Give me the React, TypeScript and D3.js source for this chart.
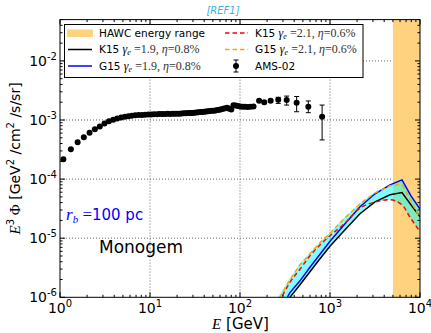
import React from 'react';
import * as d3 from 'd3';

// AMS-02 points (E in GeV, E^3 flux)
const amsE = [1.09, 1.32, 1.57, 1.84, 2.13, 2.44, 2.77, 3.12, 3.5, 3.9, 4.32, 4.77, 5.25, 5.75, 6.27, 6.85, 7.47, 8.13, 8.84, 9.58,
  10.3, 11.1, 12.0, 12.8, 13.7, 14.7, 15.7, 16.7, 17.8, 18.9, 20.0, 21.2, 22.5, 23.8, 25.1, 26.5, 28.0, 29.5, 31.1, 32.8,
  34.5, 36.3, 38.1, 40.1, 42.1, 44.2, 46.4, 48.7, 51.1, 53.6, 56.3, 59.1, 62.1, 65.2, 68.6, 72.2, 76.0, 80.1, 84.6, 89.4,
  94.6, 100.4, 106.8, 113.9, 121.9, 131, 141.4, 163, 186, 219, 266, 330, 426, 574, 817];
const amsFlux = [2.17e-4, 3.2e-4, 4.2e-4, 5.1e-4, 6.1e-4, 7.0e-4, 7.8e-4, 8.7e-4, 9.5e-4, 1.01e-3, 1.06e-3, 1.1e-3, 1.13e-3, 1.16e-3, 1.18e-3, 1.2e-3, 1.21e-3, 1.22e-3, 1.23e-3, 1.24e-3,
  1.24e-3, 1.25e-3, 1.25e-3, 1.26e-3, 1.26e-3, 1.26e-3, 1.27e-3, 1.26e-3, 1.27e-3, 1.28e-3, 1.27e-3, 1.28e-3, 1.29e-3, 1.3e-3, 1.3e-3, 1.31e-3, 1.31e-3, 1.32e-3, 1.33e-3, 1.34e-3,
  1.35e-3, 1.36e-3, 1.37e-3, 1.38e-3, 1.39e-3, 1.41e-3, 1.42e-3, 1.43e-3, 1.44e-3, 1.45e-3, 1.47e-3, 1.49e-3, 1.52e-3, 1.55e-3, 1.58e-3, 1.61e-3, 1.55e-3, 1.5e-3, 1.78e-3, 1.76e-3,
  1.73e-3, 1.7e-3, 1.68e-3, 1.67e-3, 1.66e-3, 1.67e-3, 1.7e-3, 2.12e-3, 1.99e-3, 2.12e-3, 2.2e-3, 2.18e-3, 1.96e-3, 1.68e-3, 1.14e-3];
// error bars of the last points (the others hide under the markers)
const amsErrUp = [0.08e-3, 0.1e-3, 0.12e-3, 0.22e-3, 0.36e-3, 0.54e-3, 0.42e-3, 0.65e-3];
const amsErrDn = [0.08e-3, 0.1e-3, 0.12e-3, 0.29e-3, 0.39e-3, 0.58e-3, 0.35e-3, 0.68e-3];

// model curves
const modelE = [250, 359, 464, 599, 774, 1000, 1468, 2154, 3162, 4642, 6310, 7943, 10000];
const k15g19 = [3.5e-7, 1.0e-6, 1.63e-6, 2.7e-6, 4.48e-6, 7.3e-6, 1.39e-5, 2.59e-5, 4.13e-5, 5.42e-5, 5.93e-5, 3.67e-5, 2.3e-5];
const g15g19 = [4.5e-7, 1.2e-6, 1.9e-6, 3.22e-6, 5.35e-6, 8.87e-6, 1.75e-5, 3.4e-5, 5.64e-5, 8.0e-5, 9.7e-5, 5.2e-5, 3.1e-5];
const k15g21 = [6.3e-7, 1.8e-6, 2.98e-6, 5.03e-6, 7.7e-6, 1.1e-5, 1.8e-5, 3.23e-5, 4.08e-5, 4.47e-5, 3.67e-5, 2.13e-5, 1.3e-5];
const g15g21 = [7.5e-7, 1.98e-6, 3.55e-6, 5.45e-6, 8.36e-6, 1.21e-5, 2.21e-5, 3.82e-5, 5.86e-5, 7.7e-5, 8.17e-5, 4.3e-5, 2.13e-5];
const bandHi = [8.8e-7, 2.1e-6, 3.75e-6, 5.7e-6, 8.7e-6, 1.26e-5, 2.3e-5, 3.95e-5, 6.0e-5, 8.1e-5, 9.8e-5, 5.3e-5, 3.15e-5];
const bandLo = [3.5e-7, 1.0e-6, 1.63e-6, 2.7e-6, 4.48e-6, 7.3e-6, 1.39e-5, 2.59e-5, 4.08e-5, 4.47e-5, 3.67e-5, 2.13e-5, 1.3e-5];

const hawcRange = [5000, 10000];
const xMajor = [1, 10, 100, 1000, 10000];
const yMajor = [1e-6, 1e-5, 1e-4, 1e-3, 1e-2];

const SANS = 'DejaVu Sans';
const SERIF = 'Liberation Serif';

const App = () => {
  const L = 60, R = 420, T = 19.6, B = 297.3;
  const x = d3.scaleLog().domain([1, 1e4]).range([L, R]);
  const y = d3.scaleLog().domain([1e-6, 5e-2]).range([B, T]);

  const line = (vals: number[], curve = d3.curveLinear) =>
    d3.line<number>().x((_, i) => x(modelE[i])).y(d => y(d)).curve(curve)(vals) || '';
  const band = d3.area<number>()
    .x((_, i) => x(modelE[i]))
    .y0((_, i) => y(bandLo[i]))
    .y1((_, i) => y(bandHi[i]))(modelE) || '';

  const exp = (v: number) => Math.round(Math.log10(v));
  const isMajor = (v: number) => Math.abs(Math.log10(v) - exp(v)) < 1e-6;
  const xt = x.ticks();
  const yt = y.ticks();
  const off = amsE.length - amsErrUp.length;

  const mathLabel = (g: string, eta: string) => (
    <>
      <tspan fontFamily={SERIF} fontStyle="italic" fontSize={12}>γ</tspan>
      <tspan fontFamily={SERIF} fontStyle="italic" fontSize={8} dy={2}>e</tspan>
      <tspan fontFamily={SERIF} fontSize={12} dy={-2} fill="#333"> ={g}, </tspan>
      <tspan fontFamily={SERIF} fontStyle="italic" fontSize={12} fill="#333">η</tspan>
      <tspan fontFamily={SERIF} fontSize={12} fill="#333">={eta}%</tspan>
    </>
  );

  return (
    <svg width={431} height={333} style={{ position: 'absolute', left: 0, top: 0 }} fontFamily={SANS}>
      <defs>
        <clipPath id="plot"><rect x={L} y={T} width={R - L} height={B - T} /></clipPath>
      </defs>
      <rect x={0} y={0} width={431} height={333} fill="#fff" />
      <text x={223} y={14} fontSize={10} fontStyle="italic" fill="#3fb0e0" textAnchor="middle">[REF1]</text>

      {/* grid */}
      <g stroke="#666" strokeWidth={1} strokeDasharray="1,2">
        {xMajor.slice(1, -1).map(v => <line key={'gx' + v} x1={x(v)} x2={x(v)} y1={T} y2={B} />)}
        {yMajor.slice(1).map(v => <line key={'gy' + v} x1={L} x2={R} y1={y(v)} y2={y(v)} />)}
      </g>

      <g clipPath="url(#plot)">
        <rect x={x(hawcRange[0])} y={T} width={x(hawcRange[1]) - x(hawcRange[0])} height={B - T} fill="#ffd280" />
        <path d={band} fill="#00ffff" fillOpacity={0.5} />
        <path d={line(k15g19)} fill="none" stroke="#000" strokeWidth={1.5} />
        <path d={line(g15g19)} fill="none" stroke="#0000ff" strokeWidth={1.5} />
        <path d={line(k15g21, d3.curveMonotoneX)} fill="none" stroke="#ff0000" strokeWidth={1.5} strokeDasharray="4.5,3" />
        <path d={line(g15g21)} fill="none" stroke="#ffa500" strokeWidth={1.5} strokeDasharray="4.5,3" />
        {amsErrUp.map((u, j) => {
          const i = off + j;
          const cx = x(amsE[i]);
          const y1 = y(amsFlux[i] + u), y2 = y(amsFlux[i] - amsErrDn[j]);
          return (
            <g key={'e' + i} stroke="#000" strokeWidth={1}>
              <line x1={cx} x2={cx} y1={y1} y2={y2} />
              <line x1={cx - 2.5} x2={cx + 2.5} y1={y1} y2={y1} />
              <line x1={cx - 2.5} x2={cx + 2.5} y1={y2} y2={y2} />
            </g>
          );
        })}
        {amsE.map((e, i) => <circle key={'p' + i} cx={x(e)} cy={y(amsFlux[i])} r={3} fill="#000" />)}
      </g>

      <text x={66} y={220} fontSize={15} fill="#0000ff">
        <tspan fontFamily={SERIF} fontStyle="italic" fontSize={17}>r</tspan>
        <tspan fontFamily={SERIF} fontStyle="italic" fontSize={11} dy={3}>b</tspan>
        <tspan fontFamily={SERIF} fontSize={17} dy={-3}> =</tspan>
        <tspan>100 pc</tspan>
      </text>
      <text x={99} y={253} fontSize={17} fill="#000">Monogem</text>

      {/* legend */}
      <rect x={64.5} y={24.5} width={298.5} height={53} fill="#fff" stroke="#000" strokeWidth={1} />
      <g fontSize={10.5}>
        <rect x={67} y={29.5} width={26} height={7.5} fill="#ffd280" />
        <text x={99} y={37}>HAWC energy range</text>
        <line x1={68} x2={92} y1={49.5} y2={49.5} stroke="#000" strokeWidth={1.5} />
        <text x={99} y={53.3}>K15 {mathLabel('1.9', '0.8')}</text>
        <line x1={68} x2={92} y1={66} y2={66} stroke="#0000ff" strokeWidth={1.5} />
        <text x={99} y={69.8}>G15 {mathLabel('1.9', '0.8')}</text>
        <line x1={225} x2={248} y1={33} y2={33} stroke="#ff0000" strokeWidth={1.5} strokeDasharray="4.5,3" />
        <text x={255} y={37}>K15 {mathLabel('2.1', '0.6')}</text>
        <line x1={225} x2={248} y1={49.5} y2={49.5} stroke="#ffa500" strokeWidth={1.5} strokeDasharray="4.5,3" />
        <text x={255} y={53.3}>G15 {mathLabel('2.1', '0.6')}</text>
        <g stroke="#000" strokeWidth={1}>
          <line x1={236} x2={236} y1={60} y2={72} />
          <line x1={233.5} x2={238.5} y1={60} y2={60} />
          <line x1={233.5} x2={238.5} y1={72} y2={72} />
        </g>
        <circle cx={236} cy={66} r={3} fill="#000" />
        <text x={255} y={69.8}>AMS-02</text>
      </g>

      {/* frame and ticks */}
      <rect x={L} y={T} width={R - L} height={B - T} fill="none" stroke="#000" strokeWidth={1} />
      <g stroke="#000" strokeWidth={1}>
        {xt.map((v, i) => {
          const len = isMajor(v) ? 5 : 2.5;
          return (
            <g key={'xt' + i}>
              <line x1={x(v)} x2={x(v)} y1={B} y2={B - len} />
              <line x1={x(v)} x2={x(v)} y1={T} y2={T + len} />
            </g>
          );
        })}
        {yt.map((v, i) => {
          const len = isMajor(v) ? 5 : 2.5;
          return (
            <g key={'yt' + i}>
              <line x1={L} x2={L + len} y1={y(v)} y2={y(v)} />
              <line x1={R} x2={R - len} y1={y(v)} y2={y(v)} />
            </g>
          );
        })}
      </g>
      {xMajor.map(v => (
        <text key={'xl' + v} x={x(v)} y={313} fontSize={14} textAnchor="middle">
          10<tspan fontSize={10} dy={-6}>{exp(v)}</tspan>
        </text>
      ))}
      {yMajor.map(v => (
        <text key={'yl' + v} x={57} y={y(v) + 5} fontSize={14} textAnchor="end">
          10<tspan fontSize={10} dy={-6}>{exp(v)}</tspan>
        </text>
      ))}
      <text x={240.5} y={329} fontSize={15} textAnchor="middle">
        <tspan fontFamily={SERIF} fontStyle="italic">E</tspan> [GeV]
      </text>
      <text transform={`translate(19.5,${(T + B) / 2}) rotate(-90)`} fontSize={14} textAnchor="middle">
        <tspan fontFamily={SERIF} fontStyle="italic" fontSize={15}>E</tspan>
        <tspan fontSize={10} dy={-6}>3</tspan>
        <tspan fontFamily={SERIF} fontSize={15} dy={6}> Φ</tspan>
        <tspan> [GeV</tspan>
        <tspan fontSize={10} dy={-6}>2</tspan>
        <tspan dy={6}> /cm</tspan>
        <tspan fontSize={10} dy={-6}>2</tspan>
        <tspan dy={6}> /s/sr]</tspan>
      </text>
    </svg>
  );
};

export default App;
